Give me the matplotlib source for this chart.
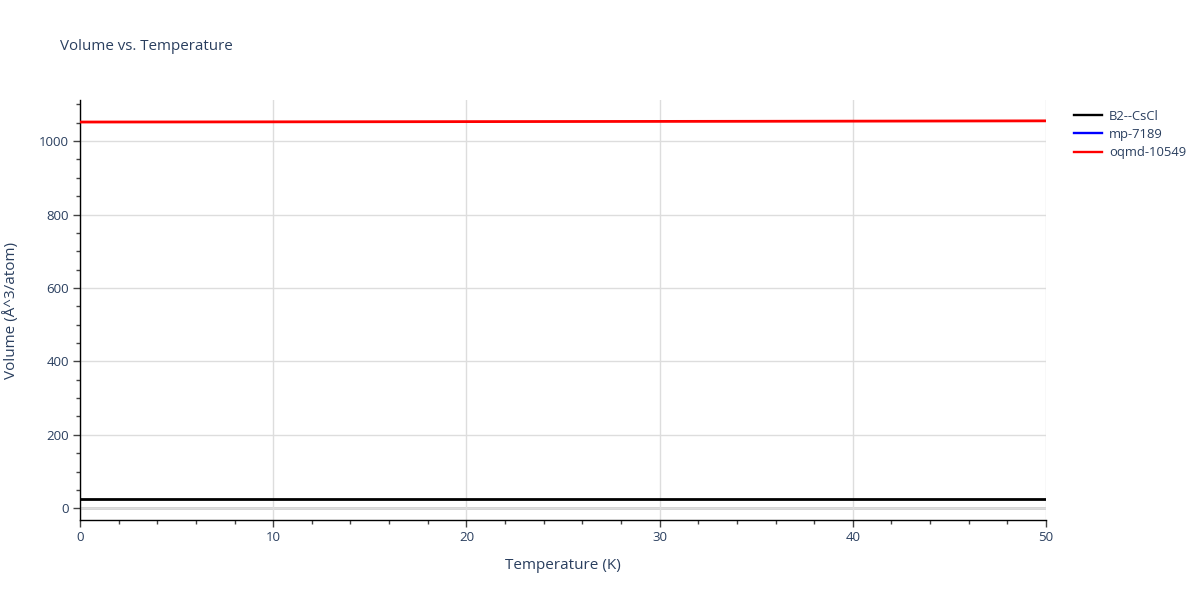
import numpy as np
import matplotlib
matplotlib.use("Agg")
import matplotlib.pyplot as plt
from matplotlib.ticker import MultipleLocator

# temperatures (K)
temps = [0, 5, 10, 15, 20, 25, 30, 35, 40, 45, 50]
# volumes (A^3/atom)
volB2 = [25.9, 25.9, 25.9, 25.9, 25.9, 25.9, 25.9, 25.9, 25.9, 25.9, 25.9]
volMp = []  # mp-7189: not visible in the plot, legend entry only
volOqmd = [1052.0, 1052.2, 1052.5, 1052.8, 1053.1, 1053.4, 1053.7, 1054.0, 1054.4, 1054.8, 1055.2]

seriesNames = ["B2--CsCl", "mp-7189", "oqmd-10549"]
seriesColors = ["black", "blue", "red"]

txtColor = "#2a3f5f"
plt.rcParams['font.family'] = ['Open Sans', 'DejaVu Sans']

fig = plt.figure(figsize=(12, 6), dpi=100)
ax = fig.add_axes([80/1200, 1 - 520/600, (1046 - 80)/1200, 420/600])

ax.plot(temps, volB2, color=seriesColors[0], lw=2, label=seriesNames[0], zorder=3)
ax.plot(temps[:len(volMp)], volMp, color=seriesColors[1], lw=2, label=seriesNames[1], zorder=3)
ax.plot(temps, volOqmd, color=seriesColors[2], lw=2, label=seriesNames[2], zorder=3)

ax.set_xlim(0, 50)
ax.set_ylim(-32, 1112)
ax.xaxis.set_major_locator(MultipleLocator(10))
ax.xaxis.set_minor_locator(MultipleLocator(2))
ax.yaxis.set_major_locator(MultipleLocator(200))
ax.yaxis.set_minor_locator(MultipleLocator(50))

ax.grid(True, which='major', color='#dddddd', lw=1, zorder=0)
ax.axhline(0, color='#d0d0d0', lw=2, zorder=1)
for side in ['top', 'right']:
    ax.spines[side].set_visible(False)
for side in ['left', 'bottom']:
    ax.spines[side].set_color('black')
    ax.spines[side].set_linewidth(1)

ax.tick_params(axis='both', which='major', direction='out', length=5, width=1,
               color='#444444', labelcolor=txtColor, labelsize=9.5, pad=3)
ax.tick_params(axis='both', which='minor', direction='out', length=3, width=1,
               color='#444444')

ax.set_xlabel("Temperature (K)", color=txtColor, fontsize=11, labelpad=10)
ax.set_ylabel("Volume (Å^3/atom)", color=txtColor, fontsize=11, labelpad=14)

fig.text(60/1200, 1 - 46/600, "Volume vs. Temperature", color=txtColor,
         fontsize=10.9, va='center', ha='left')

leg = ax.legend(loc='upper left', bbox_to_anchor=(1062/1200, 1 - 98/600),
                bbox_transform=fig.transFigure, frameon=False, fontsize=9.4,
                handlelength=2.2, labelspacing=0.4, handletextpad=0.5)
for t in leg.get_texts():
    t.set_color(txtColor)
for h in leg.get_lines():
    h.set_linewidth(1.7)

fig.savefig("out.png", dpi=100)
